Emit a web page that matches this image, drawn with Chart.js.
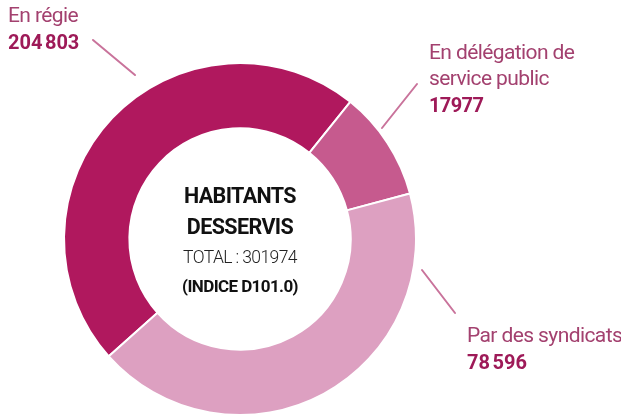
<!DOCTYPE html>
<html lang="fr">
<head>
<meta charset="utf-8">
<script src="https://cdn.jsdelivr.net/npm/chart.js@4.4.1/dist/chart.umd.min.js"></script>
<style>
  html, body { margin: 0; padding: 0; background: #fff; }
  #wrap { position: relative; width: 621px; height: 416px; }
</style>
</head>
<body>
<div id="wrap"><canvas id="myChart" width="621" height="416"></canvas></div>
<script>
const categories = ['En régie', 'En délégation de service public', 'Par des syndicats'];
// printed counts (labels)
const habitants = [204803, 17977, 78596];
// arc sizes as drawn in the reference (degrees) - the picture is not proportional to the counts
const partsDessinees = [170.6, 36.2, 153.2];
const couleurs = ['#B0185E', '#C65A8E', '#DDA0C1'];
const total = 301974;

const fmt = n => String(n).replace(/\B(?=(\d{3})+(?!\d))/g, '\u202F');

const texts = {
  id: 'texts',
  afterDraw(chart) {
    const ctx = chart.ctx;
    const arc = chart.getDatasetMeta(0).data[0];
    const cx = arc.x, cy = arc.y;
    ctx.save();

    // leader lines
    ctx.strokeStyle = '#C9739B';
    ctx.lineWidth = 2;
    ctx.lineCap = 'round';
    [[93, 40, 135, 75], [417, 84, 382, 128], [422, 270, 455, 313]].forEach(l => {
      ctx.beginPath();
      ctx.moveTo(l[0], l[1]);
      ctx.lineTo(l[2], l[3]);
      ctx.stroke();
    });

    // labels
    ctx.textAlign = 'left';
    ctx.textBaseline = 'alphabetic';
    ctx.letterSpacing = '-0.6px';
    const lab = '#A3416F', num = '#9E1A58';
    ctx.fillStyle = lab;
    ctx.font = '21px Roboto';
    ctx.fillText('En régie', 8, 22);
    ctx.fillText('En délégation de', 429, 59);
    ctx.fillText('service public', 429, 85);
    ctx.fillText('Par des syndicats', 467, 342);
    ctx.fillStyle = num;
    ctx.font = 'bold 20px Roboto';
    ctx.fillText(fmt(habitants[0]), 8, 49);
    ctx.fillText(String(habitants[1]), 429, 112);
    ctx.fillText(fmt(habitants[2]), 467, 369);

    // center
    ctx.textAlign = 'center';
    ctx.fillStyle = '#111';
    ctx.font = 'bold 21.5px Roboto';
    ctx.fillText('HABITANTS', cx, cy - 36);
    ctx.fillText('DESSERVIS', cx, cy - 5);
    ctx.font = '300 17.5px Roboto';
    ctx.fillStyle = '#222';
    ctx.fillText('TOTAL : ' + total, cx, cy + 24);
    ctx.font = 'bold 17px Roboto';
    ctx.fillStyle = '#111';
    ctx.fillText('(INDICE D101.0)', cx, cy + 53);
    ctx.restore();
  }
};

new Chart(document.getElementById('myChart'), {
  type: 'doughnut',
  data: {
    labels: categories,
    datasets: [{
      data: partsDessinees,
      backgroundColor: couleurs,
      borderColor: '#ffffff',
      borderWidth: 2,
      hoverOffset: 0
    }]
  },
  options: {
    responsive: false,
    animation: false,
    rotation: 228.2,
    radius: 176,
    cutout: 110,
    layout: { padding: { left: 64, right: 205, top: 63, bottom: 1 } },
    plugins: {
      legend: { display: false },
      tooltip: { enabled: false }
    }
  },
  plugins: [texts]
});
</script>
</body>
</html>
